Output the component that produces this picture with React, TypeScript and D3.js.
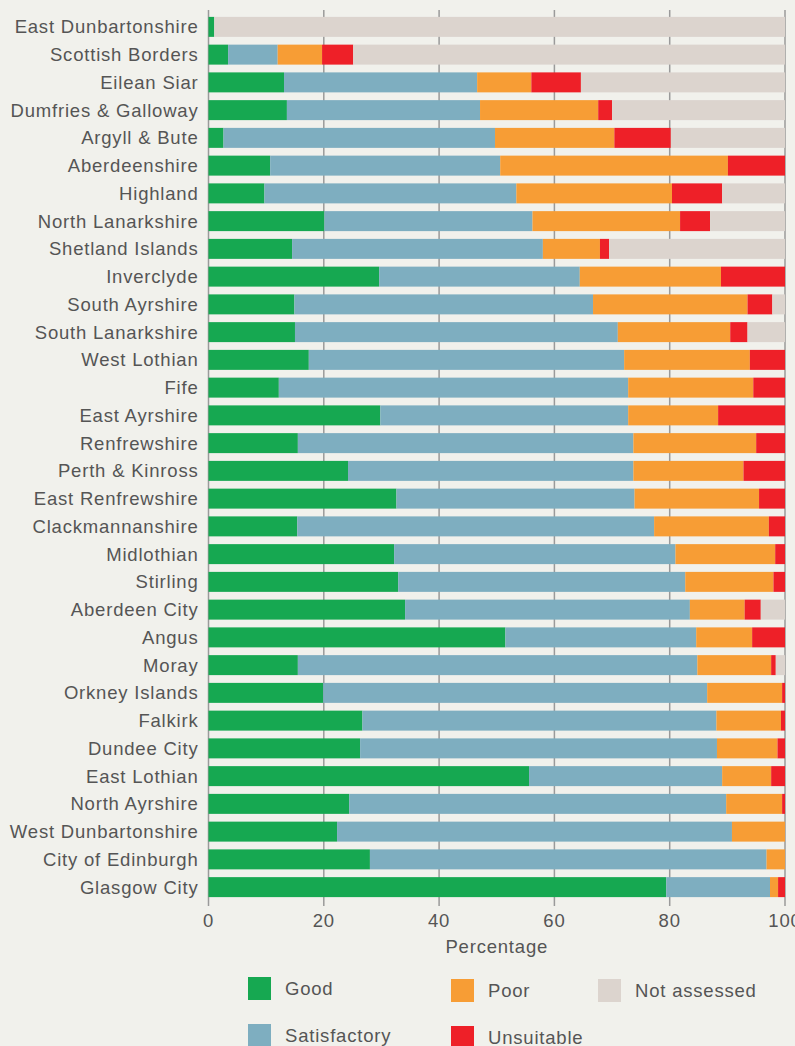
import * as d3 from "d3";
import React from "react";

const councils = [
  "East Dunbartonshire", "Scottish Borders", "Eilean Siar", "Dumfries & Galloway",
  "Argyll & Bute", "Aberdeenshire", "Highland", "North Lanarkshire",
  "Shetland Islands", "Inverclyde", "South Ayrshire", "South Lanarkshire",
  "West Lothian", "Fife", "East Ayrshire", "Renfrewshire", "Perth & Kinross",
  "East Renfrewshire", "Clackmannanshire", "Midlothian", "Stirling",
  "Aberdeen City", "Angus", "Moray", "Orkney Islands", "Falkirk", "Dundee City",
  "East Lothian", "North Ayrshire", "West Dunbartonshire", "City of Edinburgh",
  "Glasgow City",
];

const good = [
  1.0, 3.4, 13.1, 13.6, 2.6, 10.7, 9.7, 20.1, 14.5, 29.6, 14.9, 15.0, 17.4, 12.2,
  29.8, 15.5, 24.2, 32.6, 15.4, 32.2, 32.9, 34.1, 51.5, 15.5, 19.9, 26.7, 26.3,
  55.6, 24.4, 22.3, 28.0, 79.4,
];
const satisfactory = [
  0, 8.6, 33.5, 33.5, 47.1, 39.9, 43.7, 36.1, 43.5, 34.8, 51.8, 56.0, 54.7, 60.6,
  43.0, 58.2, 49.5, 41.3, 61.9, 48.8, 49.8, 49.4, 33.1, 69.3, 66.6, 61.4, 61.9,
  33.5, 65.4, 68.5, 68.8, 18.0,
];
const poor = [
  0, 7.7, 9.4, 20.5, 20.7, 39.5, 27.0, 25.6, 9.9, 24.5, 26.8, 19.5, 21.8, 21.7,
  15.6, 21.3, 19.1, 21.6, 19.9, 17.3, 15.3, 9.5, 9.7, 12.8, 13.0, 11.2, 10.5,
  8.5, 9.7, 9.2, 3.2, 1.4,
];
const unsuitable = [
  0, 5.4, 8.6, 2.4, 9.8, 9.9, 8.7, 5.2, 1.6, 11.1, 4.3, 3.0, 6.1, 5.5, 11.6, 5.0,
  7.2, 4.5, 2.8, 1.7, 2.0, 2.8, 5.7, 0.8, 0.5, 0.7, 1.3, 2.4, 0.5, 0, 0, 1.2,
];
const notAssessed = [
  99.0, 74.9, 35.4, 30.0, 19.8, 0, 10.9, 13.0, 30.5, 0, 2.2, 6.5, 0, 0, 0, 0, 0,
  0, 0, 0, 0, 4.2, 0, 1.6, 0, 0, 0, 0, 0, 0, 0, 0,
];

const seriesKeys = ["Good", "Satisfactory", "Poor", "Unsuitable", "Not assessed"];
const seriesColors = ["#16a851", "#7eaec0", "#f79d35", "#ee2028", "#dcd4ce"];
const xTicks = [0, 20, 40, 60, 80, 100];

const W = 795;
const H = 1046;
const margin = { top: 13, left: 208.5, right: 10, bottom: 145 };
const font = "'Liberation Sans', Arial, sans-serif";
const textColor = "#555555";

export default function App() {
  const rows = councils.map((c, i) => ({
    name: c,
    Good: good[i],
    Satisfactory: satisfactory[i],
    Poor: poor[i],
    Unsuitable: unsuitable[i],
    "Not assessed": notAssessed[i],
  }));

  const stack = d3.stack<any>().keys(seriesKeys);
  const layers = stack(rows);

  const x = d3.scaleLinear().domain([0, 100]).range([margin.left, 785]);
  const y = d3
    .scaleBand()
    .domain(councils)
    .range([margin.top, H - margin.bottom])
    .paddingInner(0.28)
    .paddingOuter(0.14);

  const axisY = H - margin.bottom;

  // legend layout: two rows, three columns
  const legendPos = [
    { x: 248, y: 977 },
    { x: 248, y: 1024 },
    { x: 451, y: 979 },
    { x: 451, y: 1026 },
    { x: 598, y: 979 },
  ];

  const textProps = {
    fontFamily: font,
    fontSize: 18.5,
    fill: textColor,
    letterSpacing: 0.8,
  };

  return (
    <div style={{ position: "absolute", left: 0, top: 0 }}>
      <svg width={W} height={H} style={{ display: "block" }}>
        <rect x={0} y={0} width={W} height={H} fill="#f1f1ec" />

        {/* grid */}
        {xTicks.map((t) => (
          <line
            key={t}
            x1={x(t)}
            x2={x(t)}
            y1={margin.top - 3}
            y2={axisY + 5}
            stroke="#9a9a9a"
            strokeWidth={1.5}
          />
        ))}

        {/* bars */}
        {layers.map((layer, li) => (
          <g key={layer.key} fill={seriesColors[li]}>
            {layer.map((d, i) =>
              d[1] - d[0] > 0 ? (
                <rect
                  key={i}
                  x={x(d[0])}
                  y={y(councils[i])}
                  width={x(d[1]) - x(d[0])}
                  height={y.bandwidth()}
                />
              ) : null
            )}
          </g>
        ))}

        {/* category labels */}
        {councils.map((c) => (
          <text
            key={c}
            x={margin.left - 10}
            y={(y(c) as number) + y.bandwidth() / 2}
            dy="0.35em"
            textAnchor="end"
            {...textProps}
          >
            {c}
          </text>
        ))}

        {/* x tick labels */}
        {xTicks.map((t) => (
          <text
            key={t}
            x={x(t)}
            y={axisY + 20}
            dy="0.35em"
            textAnchor="middle"
            {...textProps}
          >
            {t}
          </text>
        ))}
        <text
          x={(x(0) + x(100)) / 2}
          y={axisY + 46}
          dy="0.35em"
          textAnchor="middle"
          {...textProps}
        >
          Percentage
        </text>

        {/* legend */}
        {seriesKeys.map((k, i) => (
          <g key={k} transform={`translate(${legendPos[i].x},${legendPos[i].y})`}>
            <rect width={23} height={23} fill={seriesColors[i]} />
            <text x={37} y={11.5} dy="0.35em" {...textProps}>
              {k}
            </text>
          </g>
        ))}
      </svg>
    </div>
  );
}
